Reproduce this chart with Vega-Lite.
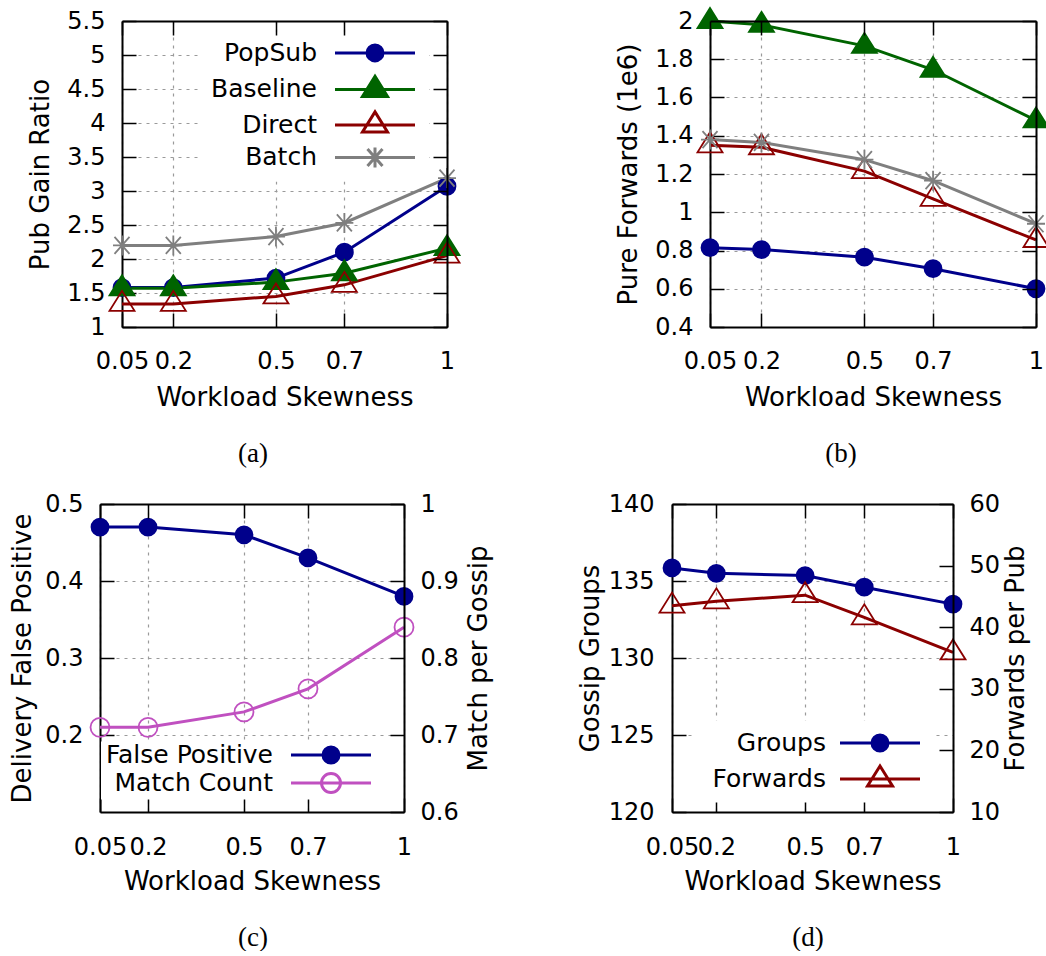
{
  "$schema": "https://vega.github.io/schema/vega-lite/v6.json",
  "padding": {"left": 8, "top": 4, "right": 0, "bottom": 0},
  "background": "white",
  "spacing": 25,
  "datasets": {
    "ab": [
      {"skew": 0.05, "series": "PopSub", "gain": 1.58, "fwd": 0.815},
      {"skew": 0.2, "series": "PopSub", "gain": 1.58, "fwd": 0.805},
      {"skew": 0.5, "series": "PopSub", "gain": 1.72, "fwd": 0.765},
      {"skew": 0.7, "series": "PopSub", "gain": 2.1, "fwd": 0.705},
      {"skew": 1, "series": "PopSub", "gain": 3.07, "fwd": 0.6},
      {"skew": 0.05, "series": "Baseline", "gain": 1.57, "fwd": 2.0},
      {"skew": 0.2, "series": "Baseline", "gain": 1.57, "fwd": 1.98},
      {"skew": 0.5, "series": "Baseline", "gain": 1.66, "fwd": 1.87},
      {"skew": 0.7, "series": "Baseline", "gain": 1.79, "fwd": 1.745},
      {"skew": 1, "series": "Baseline", "gain": 2.16, "fwd": 1.48},
      {"skew": 0.05, "series": "Direct", "gain": 1.34, "fwd": 1.35},
      {"skew": 0.2, "series": "Direct", "gain": 1.34, "fwd": 1.34},
      {"skew": 0.5, "series": "Direct", "gain": 1.45, "fwd": 1.215},
      {"skew": 0.7, "series": "Direct", "gain": 1.62, "fwd": 1.07},
      {"skew": 1, "series": "Direct", "gain": 2.05, "fwd": 0.855},
      {"skew": 0.05, "series": "Batch", "gain": 2.2, "fwd": 1.38},
      {"skew": 0.2, "series": "Batch", "gain": 2.2, "fwd": 1.365},
      {"skew": 0.5, "series": "Batch", "gain": 2.33, "fwd": 1.275},
      {"skew": 0.7, "series": "Batch", "gain": 2.53, "fwd": 1.165},
      {"skew": 1, "series": "Batch", "gain": 3.19, "fwd": 0.94}
    ],
    "c": [
      {"skew": 0.05, "series": "False Positive", "val": 0.47},
      {"skew": 0.2, "series": "False Positive", "val": 0.47},
      {"skew": 0.5, "series": "False Positive", "val": 0.46},
      {"skew": 0.7, "series": "False Positive", "val": 0.43},
      {"skew": 1, "series": "False Positive", "val": 0.38},
      {"skew": 0.05, "series": "Match Count", "val": 0.71},
      {"skew": 0.2, "series": "Match Count", "val": 0.71},
      {"skew": 0.5, "series": "Match Count", "val": 0.73},
      {"skew": 0.7, "series": "Match Count", "val": 0.76},
      {"skew": 1, "series": "Match Count", "val": 0.84}
    ],
    "d": [
      {"skew": 0.05, "series": "Groups", "val": 135.85},
      {"skew": 0.2, "series": "Groups", "val": 135.5},
      {"skew": 0.5, "series": "Groups", "val": 135.35},
      {"skew": 0.7, "series": "Groups", "val": 134.6},
      {"skew": 1, "series": "Groups", "val": 133.5},
      {"skew": 0.05, "series": "Forwards", "val": 43.5},
      {"skew": 0.2, "series": "Forwards", "val": 44.2},
      {"skew": 0.5, "series": "Forwards", "val": 45.2},
      {"skew": 0.7, "series": "Forwards", "val": 41.6},
      {"skew": 1, "series": "Forwards", "val": 35.9}
    ]
  },
  "config": {
    "view": {"stroke": null},
    "axis": {
      "labelFont": "DejaVu Sans", "labelFontSize": 24, "labelColor": "black",
      "titleFont": "DejaVu Sans", "titleFontSize": 26, "titleFontWeight": "normal", "titleColor": "black",
      "tickColor": "black", "tickWidth": 1.5, "tickSize": -14,
      "domainColor": "black", "domainWidth": 2,
      "gridColor": "#9a9a9a", "gridDash": [3, 5], "gridWidth": 1.2,
      "labelFlush": false, "labelOverlap": false
    },
    "legend": {"labelFont": "DejaVu Sans", "labelFontSize": 25, "labelColor": "black"}
  },
  "resolve": {
    "scale": {"color": "independent", "stroke": "independent", "fill": "independent", "shape": "independent"},
    "legend": {"color": "independent", "stroke": "independent", "fill": "independent", "shape": "independent"}
  },
  "vconcat": [
    {
      "spacing": 0,
      "resolve": {
        "scale": {"color": "independent", "stroke": "independent", "fill": "independent", "shape": "independent"},
        "legend": {"color": "independent", "stroke": "independent", "fill": "independent", "shape": "independent"}
      },
      "hconcat": [
        {"width": 19, "height": 1, "data": {"values": []}, "mark": "point"},
        {
          "spacing": 151,
          "resolve": {
            "scale": {"color": "independent", "stroke": "independent", "fill": "independent", "shape": "independent"},
            "legend": {"color": "independent", "stroke": "independent", "fill": "independent", "shape": "independent"}
          },
          "hconcat": [
            {
              "width": 325, "height": 306,
              "data": {"name": "ab"},
              "title": {"text": "(a)", "orient": "bottom", "frame": "group", "anchor": "middle", "dx": -31.5, "offset": 30, "font": "Liberation Serif", "fontSize": 27, "fontWeight": "normal", "color": "black"},
              "resolve": {"axis": {"x": "independent", "y": "independent"}},
              "layer": [
                {
                  "mark": {"type": "line", "strokeWidth": 3},
                  "encoding": {
                    "x": {"field": "skew", "type": "quantitative", "scale": {"domain": [0.05, 1], "nice": false, "zero": false},
                      "axis": {"orient": "bottom", "values": [0.05, 0.2, 0.5, 0.7, 1], "format": "~g", "title": "Workload Skewness", "grid": true, "labelPadding": 36.5, "titlePadding": 11}},
                    "y": {"field": "gain", "type": "quantitative", "scale": {"domain": [1, 5.5], "nice": false, "zero": false},
                      "axis": {"orient": "left", "values": [1, 1.5, 2, 2.5, 3, 3.5, 4, 4.5, 5, 5.5], "format": "~g", "title": "Pub Gain Ratio", "grid": true, "labelPadding": 31, "titlePadding": 13.5}},
                    "stroke": {"field": "series", "type": "nominal", "scale": {"domain": ["PopSub", "Baseline", "Direct", "Batch"], "range": ["#00008b", "#006400", "#8b0000", "#7f7f7f"]}}
                  }
                },
                {
                  "mark": {"type": "point", "size": 400, "strokeWidth": 1.8, "opacity": 1},
                  "encoding": {
                    "x": {"field": "skew", "type": "quantitative", "scale": {"domain": [0.05, 1], "nice": false, "zero": false},
                      "axis": {"orient": "top", "values": [0.05, 0.2, 0.5, 0.7, 1], "labels": false, "title": null, "grid": false, "zindex": 1}},
                    "y": {"field": "gain", "type": "quantitative", "scale": {"domain": [1, 5.5], "nice": false, "zero": false},
                      "axis": {"orient": "right", "values": [1, 1.5, 2, 2.5, 3, 3.5, 4, 4.5, 5, 5.5], "labels": false, "title": null, "grid": false, "zindex": 1}},
                    "shape": {"field": "series", "type": "nominal", "scale": {"domain": ["Baseline", "PopSub", "Direct", "Batch"], "range": ["M0,-1.3L1.25,0.7L-1.25,0.7Z", "M0.85,0A0.85,0.85,0,1,1,-0.85,0A0.85,0.85,0,1,1,0.85,0Z", "M0,-1.3L1.25,0.7L-1.25,0.7Z", "M-0.9,0L0.9,0M0,-1L0,1M-0.75,-0.85L0.75,0.85M-0.75,0.85L0.75,-0.85"]}, "legend": null},
                    "fill": {"field": "series", "type": "nominal", "scale": {"domain": ["Direct", "Baseline", "PopSub", "Batch"], "range": ["transparent", "#006400", "#00008b", "transparent"]}, "legend": null},
                    "stroke": {"field": "series", "type": "nominal", "scale": {"domain": ["PopSub", "Baseline", "Direct", "Batch"], "range": ["#00008b", "#006400", "#8b0000", "#7f7f7f"]},
                      "legend": {
                        "orient": "none", "legendX": 77, "legendY": 11.4, "title": null, "padding": 8, "fillColor": "white",
                        "symbolSize": 400, "symbolStrokeWidth": 3, "symbolOffset": 155.5, "labelOffset": -70.5, "labelAlign": "right", "labelLimit": 400, "rowPadding": 2.5,
                        "symbolType": {"expr": "datum.value == 'PopSub' ? 'M-4,0L4,0M0.8,0A0.8,0.8,0,1,1,-0.8,0A0.8,0.8,0,1,1,0.8,0Z' : datum.value == 'Batch' ? 'M-4,0L4,0M0,-1L0,1M-0.75,-0.85L0.75,0.85M-0.75,0.85L0.75,-0.85' : 'M-4,0L4,0M0,-1.3L1.25,0.7L-1.25,0.7Z'"},
                        "symbolFillColor": {"expr": "datum.value == 'PopSub' ? '#00008b' : datum.value == 'Baseline' ? '#006400' : 'transparent'"}
                      }}
                  }
                }
              ]
            },
            {
              "width": 326, "height": 306,
              "data": {"name": "ab"},
              "title": {"text": "(b)", "orient": "bottom", "frame": "group", "anchor": "middle", "dx": -32, "offset": 30, "font": "Liberation Serif", "fontSize": 27, "fontWeight": "normal", "color": "black"},
              "resolve": {"axis": {"x": "independent", "y": "independent"}},
              "layer": [
                {
                  "mark": {"type": "line", "strokeWidth": 3},
                  "encoding": {
                    "x": {"field": "skew", "type": "quantitative", "scale": {"domain": [0.05, 1], "nice": false, "zero": false},
                      "axis": {"orient": "bottom", "values": [0.05, 0.2, 0.5, 0.7, 1], "format": "~g", "title": "Workload Skewness", "grid": true, "labelPadding": 36.5, "titlePadding": 11}},
                    "y": {"field": "fwd", "type": "quantitative", "scale": {"domain": [0.4, 2], "nice": false, "zero": false},
                      "axis": {"orient": "left", "values": [0.4, 0.6, 0.8, 1, 1.2, 1.4, 1.6, 1.8, 2], "format": "~g", "title": "Pure Forwards (1e6)", "grid": true, "labelPadding": 31, "titlePadding": 13}},
                    "stroke": {"field": "series", "type": "nominal", "scale": {"domain": ["PopSub", "Baseline", "Direct", "Batch"], "range": ["#00008b", "#006400", "#8b0000", "#7f7f7f"]}, "legend": null}
                  }
                },
                {
                  "mark": {"type": "point", "size": 400, "strokeWidth": 1.8, "opacity": 1},
                  "encoding": {
                    "x": {"field": "skew", "type": "quantitative", "scale": {"domain": [0.05, 1], "nice": false, "zero": false},
                      "axis": {"orient": "top", "values": [0.05, 0.2, 0.5, 0.7, 1], "labels": false, "title": null, "grid": false, "zindex": 1}},
                    "y": {"field": "fwd", "type": "quantitative", "scale": {"domain": [0.4, 2], "nice": false, "zero": false},
                      "axis": {"orient": "right", "values": [0.4, 0.6, 0.8, 1, 1.2, 1.4, 1.6, 1.8, 2], "labels": false, "title": null, "grid": false, "zindex": 1}},
                    "shape": {"field": "series", "type": "nominal", "scale": {"domain": ["PopSub", "Baseline", "Direct", "Batch"], "range": ["M0.85,0A0.85,0.85,0,1,1,-0.85,0A0.85,0.85,0,1,1,0.85,0Z", "M0,-1.3L1.25,0.7L-1.25,0.7Z", "M0,-1.3L1.25,0.7L-1.25,0.7Z", "M-0.9,0L0.9,0M0,-1L0,1M-0.75,-0.85L0.75,0.85M-0.75,0.85L0.75,-0.85"]}, "legend": null},
                    "fill": {"field": "series", "type": "nominal", "scale": {"domain": ["PopSub", "Baseline", "Direct", "Batch"], "range": ["#00008b", "#006400", "transparent", "transparent"]}, "legend": null},
                    "stroke": {"field": "series", "type": "nominal", "scale": {"domain": ["PopSub", "Baseline", "Direct", "Batch"], "range": ["#00008b", "#006400", "#8b0000", "#7f7f7f"]}, "legend": null}
                  }
                }
              ]
            }
          ]
        }
      ]
    },
    {
      "spacing": 0,
      "resolve": {
        "scale": {"color": "independent", "stroke": "independent", "fill": "independent", "shape": "independent"},
        "legend": {"color": "independent", "stroke": "independent", "fill": "independent", "shape": "independent"}
      },
      "hconcat": [
        {"width": 1, "height": 1, "data": {"values": []}, "mark": "point"},
        {
          "spacing": 85,
          "resolve": {
            "scale": {"color": "independent", "stroke": "independent", "fill": "independent", "shape": "independent"},
            "legend": {"color": "independent", "stroke": "independent", "fill": "independent", "shape": "independent"}
          },
          "hconcat": [
            {
              "width": 304, "height": 308,
              "data": {"name": "c"},
              "title": {"text": "(c)", "orient": "bottom", "frame": "group", "anchor": "middle", "dx": 1, "offset": 30, "font": "Liberation Serif", "fontSize": 27, "fontWeight": "normal", "color": "black"},
              "resolve": {"scale": {"y": "independent"}, "axis": {"x": "independent", "y": "independent"}},
              "layer": [
                {
                  "transform": [{"filter": "datum.series == 'False Positive'"}],
                  "mark": {"type": "line", "strokeWidth": 3},
                  "encoding": {
                    "x": {"field": "skew", "type": "quantitative", "scale": {"domain": [0.05, 1], "nice": false, "zero": false},
                      "axis": {"orient": "bottom", "values": [0.05, 0.2, 0.5, 0.7, 1], "format": "~g", "title": "Workload Skewness", "grid": true, "labelPadding": 37.5, "titlePadding": 9}},
                    "y": {"field": "val", "type": "quantitative", "scale": {"domain": [0.1, 0.5], "nice": false, "zero": false},
                      "axis": {"orient": "left", "values": [0.2, 0.3, 0.4, 0.5], "format": "~g", "title": "Delivery False Positive", "grid": true, "labelPadding": 31, "titlePadding": 9.5}},
                    "stroke": {"field": "series", "type": "nominal", "scale": {"domain": ["False Positive", "Match Count"], "range": ["#00008b", "#c050c0"]}}
                  }
                },
                {
                  "transform": [{"filter": "datum.series == 'False Positive'"}],
                  "mark": {"type": "point", "size": 400, "strokeWidth": 1.8, "opacity": 1, "shape": "M0.85,0A0.85,0.85,0,1,1,-0.85,0A0.85,0.85,0,1,1,0.85,0Z"},
                  "encoding": {
                    "x": {"field": "skew", "type": "quantitative", "scale": {"domain": [0.05, 1], "nice": false, "zero": false},
                      "axis": {"orient": "top", "values": [0.05, 0.2, 0.5, 0.7, 1], "labels": false, "title": null, "grid": false, "zindex": 1}},
                    "y": {"field": "val", "type": "quantitative", "scale": {"domain": [0.1, 0.5], "nice": false, "zero": false}, "axis": null},
                    "fill": {"field": "series", "type": "nominal", "scale": {"domain": ["Match Count", "False Positive"], "range": ["transparent", "#00008b"]}, "legend": null},
                    "stroke": {"field": "series", "type": "nominal", "scale": {"domain": ["False Positive", "Match Count"], "range": ["#00008b", "#c050c0"]},
                      "legend": {
                        "orient": "none", "legendX": 1, "legendY": 237.5, "title": null, "padding": 1, "fillColor": "white",
                        "symbolSize": 400, "symbolStrokeWidth": 3, "symbolOffset": 216.5, "labelOffset": -70.5, "labelAlign": "right", "labelLimit": 400, "rowPadding": -2,
                        "symbolType": {"expr": "datum.value == 'False Positive' ? 'M-4,0L4,0M0.8,0A0.8,0.8,0,1,1,-0.8,0A0.8,0.8,0,1,1,0.8,0Z' : 'M-4,0L4,0M0.95,0A0.95,0.95,0,1,1,-0.95,0A0.95,0.95,0,1,1,0.95,0Z'"},
                        "symbolFillColor": {"expr": "datum.value == 'False Positive' ? '#00008b' : 'transparent'"}
                      }}
                  }
                },
                {
                  "transform": [{"filter": "datum.series == 'Match Count'"}],
                  "mark": {"type": "line", "strokeWidth": 3},
                  "encoding": {
                    "x": {"field": "skew", "type": "quantitative", "scale": {"domain": [0.05, 1], "nice": false, "zero": false}, "axis": null},
                    "y": {"field": "val", "type": "quantitative", "scale": {"domain": [0.6, 1], "nice": false, "zero": false},
                      "axis": {"orient": "right", "values": [0.6, 0.7, 0.8, 0.9, 1], "format": "~g", "title": "Match per Gossip", "titleAngle": 270, "titleBaseline": "top", "grid": false, "labelPadding": 30, "titlePadding": 7.5, "zindex": 1}},
                    "stroke": {"field": "series", "type": "nominal", "scale": {"domain": ["False Positive", "Match Count"], "range": ["#00008b", "#c050c0"]}}
                  }
                },
                {
                  "transform": [{"filter": "datum.series == 'Match Count'"}],
                  "mark": {"type": "point", "size": 400, "strokeWidth": 1.8, "opacity": 1, "shape": "M0.95,0A0.95,0.95,0,1,1,-0.95,0A0.95,0.95,0,1,1,0.95,0Z"},
                  "encoding": {
                    "x": {"field": "skew", "type": "quantitative", "scale": {"domain": [0.05, 1], "nice": false, "zero": false}, "axis": null},
                    "y": {"field": "val", "type": "quantitative", "scale": {"domain": [0.6, 1], "nice": false, "zero": false}, "axis": null},
                    "fill": {"field": "series", "type": "nominal", "scale": {"domain": ["Match Count", "False Positive"], "range": ["transparent", "#00008b"]}, "legend": null},
                    "stroke": {"field": "series", "type": "nominal", "scale": {"domain": ["False Positive", "Match Count"], "range": ["#00008b", "#c050c0"]}}
                  }
                }
              ]
            },
            {
              "width": 281, "height": 308,
              "data": {"name": "d"},
              "title": {"text": "(d)", "orient": "bottom", "frame": "group", "anchor": "middle", "dx": -4.5, "offset": 30, "font": "Liberation Serif", "fontSize": 27, "fontWeight": "normal", "color": "black"},
              "resolve": {"scale": {"y": "independent"}, "axis": {"x": "independent", "y": "independent"}},
              "layer": [
                {
                  "transform": [{"filter": "datum.series == 'Groups'"}],
                  "mark": {"type": "line", "strokeWidth": 3},
                  "encoding": {
                    "x": {"field": "skew", "type": "quantitative", "scale": {"domain": [0.05, 1], "nice": false, "zero": false},
                      "axis": {"orient": "bottom", "values": [0.05, 0.2, 0.5, 0.7, 1], "format": "~g", "title": "Workload Skewness", "grid": true, "labelPadding": 37.5, "titlePadding": 9}},
                    "y": {"field": "val", "type": "quantitative", "scale": {"domain": [120, 140], "nice": false, "zero": false},
                      "axis": {"orient": "left", "values": [120, 125, 130, 135, 140], "format": "d", "title": "Gossip Groups", "grid": true, "labelPadding": 32, "titlePadding": 4.5}},
                    "stroke": {"field": "series", "type": "nominal", "scale": {"domain": ["Groups", "Forwards"], "range": ["#00008b", "#8b0000"]}}
                  }
                },
                {
                  "transform": [{"filter": "datum.series == 'Groups'"}],
                  "mark": {"type": "point", "size": 400, "strokeWidth": 1.8, "opacity": 1, "shape": "M0.85,0A0.85,0.85,0,1,1,-0.85,0A0.85,0.85,0,1,1,0.85,0Z"},
                  "encoding": {
                    "x": {"field": "skew", "type": "quantitative", "scale": {"domain": [0.05, 1], "nice": false, "zero": false},
                      "axis": {"orient": "top", "values": [0.05, 0.2, 0.5, 0.7, 1], "labels": false, "title": null, "grid": false, "zindex": 1}},
                    "y": {"field": "val", "type": "quantitative", "scale": {"domain": [120, 140], "nice": false, "zero": false}, "axis": null},
                    "fill": {"field": "series", "type": "nominal", "scale": {"domain": ["Forwards", "Groups"], "range": ["transparent", "#00008b"]}, "legend": null},
                    "stroke": {"field": "series", "type": "nominal", "scale": {"domain": ["Groups", "Forwards"], "range": ["#00008b", "#8b0000"]},
                      "legend": {
                        "orient": "none", "legendX": 22, "legendY": 216.5, "title": null, "padding": 10, "fillColor": "white",
                        "symbolSize": 400, "symbolStrokeWidth": 3, "symbolOffset": 163.5, "labelOffset": -66.5, "labelAlign": "right", "labelLimit": 400, "rowPadding": 2,
                        "symbolType": {"expr": "datum.value == 'Groups' ? 'M-4,0L4,0M0.8,0A0.8,0.8,0,1,1,-0.8,0A0.8,0.8,0,1,1,0.8,0Z' : 'M-4,0L4,0M0,-1.3L1.25,0.7L-1.25,0.7Z'"},
                        "symbolFillColor": {"expr": "datum.value == 'Groups' ? '#00008b' : 'transparent'"}
                      }}
                  }
                },
                {
                  "transform": [{"filter": "datum.series == 'Forwards'"}],
                  "mark": {"type": "line", "strokeWidth": 3},
                  "encoding": {
                    "x": {"field": "skew", "type": "quantitative", "scale": {"domain": [0.05, 1], "nice": false, "zero": false}, "axis": null},
                    "y": {"field": "val", "type": "quantitative", "scale": {"domain": [10, 60], "nice": false, "zero": false},
                      "axis": {"orient": "right", "values": [10, 20, 30, 40, 50, 60], "format": "d", "title": "Forwards per Pub", "titleAngle": 270, "titleBaseline": "top", "grid": false, "labelPadding": 30, "titlePadding": 3, "zindex": 1}},
                    "stroke": {"field": "series", "type": "nominal", "scale": {"domain": ["Groups", "Forwards"], "range": ["#00008b", "#8b0000"]}}
                  }
                },
                {
                  "transform": [{"filter": "datum.series == 'Forwards'"}],
                  "mark": {"type": "point", "size": 400, "strokeWidth": 1.8, "opacity": 1, "shape": "M0,-1.3L1.25,0.7L-1.25,0.7Z"},
                  "encoding": {
                    "x": {"field": "skew", "type": "quantitative", "scale": {"domain": [0.05, 1], "nice": false, "zero": false}, "axis": null},
                    "y": {"field": "val", "type": "quantitative", "scale": {"domain": [10, 60], "nice": false, "zero": false}, "axis": null},
                    "fill": {"field": "series", "type": "nominal", "scale": {"domain": ["Forwards", "Groups"], "range": ["transparent", "#00008b"]}, "legend": null},
                    "stroke": {"field": "series", "type": "nominal", "scale": {"domain": ["Groups", "Forwards"], "range": ["#00008b", "#8b0000"]}}
                  }
                }
              ]
            }
          ]
        }
      ]
    }
  ]
}
